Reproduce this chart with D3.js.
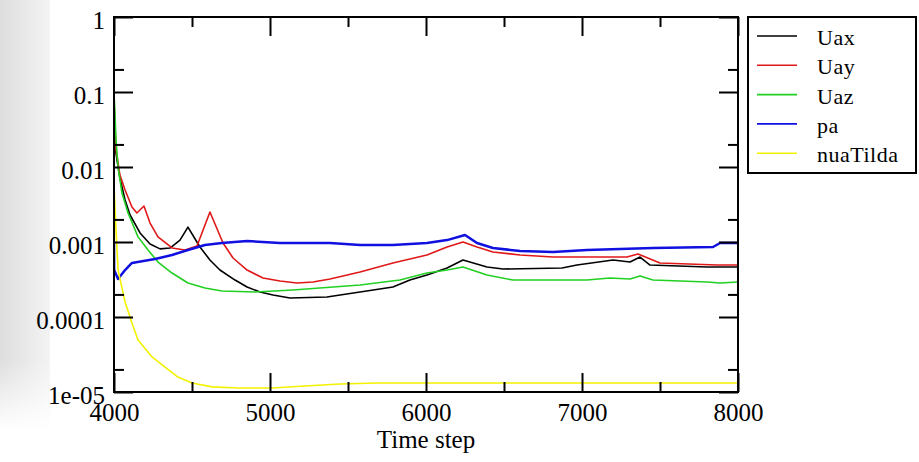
<!DOCTYPE html>
<html>

<head>
    <meta charset="utf-8">
    <style>
        body {
            margin: 0;
            background: white;
        }

        svg {
            display: block;
        }

        .axis line {
            stroke: black;
            stroke-width: 2;
        }
    </style>
</head>

<body>
    <svg width="919" height="462"></svg>

    <script src="https://d3js.org/d3.v7.min.js"></script>

    <script>
        // residuals, [time step, value]
        let uax = [
            [4000, 0.023], [4019, 0.0124], [4038, 0.00713], [4071, 0.00363], [4103, 0.00229],
            [4167, 0.00132], [4231, 0.00094], [4295, 0.00081], [4359, 0.00083], [4423, 0.00106],
            [4474, 0.00158], [4551, 0.000858], [4615, 0.000575], [4679, 0.000423], [4776, 0.000311],
            [4853, 0.000251], [4936, 0.000215], [5019, 0.000196], [5128, 0.000179], [5365, 0.000185],
            [5577, 0.000215], [5788, 0.000251], [5897, 0.000311], [6006, 0.000363], [6135, 0.00045],
            [6237, 0.000575], [6391, 0.000464], [6494, 0.000436], [6872, 0.00045], [6968, 0.000493],
            [7199, 0.000575], [7308, 0.000541], [7372, 0.00063], [7436, 0.000493], [7801, 0.000464],
            [8000, 0.000464]
        ]

        let uay = [
            [4000, 0.078], [4013, 0.0169], [4038, 0.00782], [4071, 0.00494], [4115, 0.00293],
            [4147, 0.00244], [4192, 0.00302], [4231, 0.00179], [4282, 0.00117], [4372, 0.000832],
            [4455, 0.000782], [4532, 0.000885], [4615, 0.00251], [4699, 0.00097], [4763, 0.000612],
            [4853, 0.000423], [4955, 0.000331], [5064, 0.000302], [5173, 0.000284], [5276, 0.000293],
            [5385, 0.000321], [5577, 0.000398], [5788, 0.000525], [6006, 0.000671], [6135, 0.000858],
            [6237, 0.001], [6327, 0.000858], [6429, 0.000736], [6603, 0.000671], [6814, 0.00063],
            [7288, 0.00063], [7359, 0.000692], [7500, 0.000525], [7865, 0.000493], [8000, 0.000493]
        ]

        let uaz = [
            [4000, 0.1], [4006, 0.0525], [4013, 0.0229], [4026, 0.01], [4051, 0.0045],
            [4090, 0.00244], [4154, 0.00117], [4218, 0.000782], [4282, 0.000541], [4372, 0.000386],
            [4474, 0.000284], [4583, 0.000244], [4692, 0.000222], [4904, 0.000215], [5147, 0.000229],
            [5577, 0.000267], [5833, 0.000311], [6006, 0.000386], [6135, 0.000423], [6237, 0.000464],
            [6391, 0.000363], [6558, 0.000311], [7032, 0.000311], [7179, 0.000331], [7308, 0.000321],
            [7372, 0.000352], [7455, 0.000311], [7801, 0.000293], [7885, 0.000284], [8000, 0.000293]
        ]

        let pa = [
            [4000, 0.001], [4001, 0.000423], [4026, 0.000321], [4071, 0.000423], [4115, 0.000525],
            [4263, 0.000593], [4372, 0.000671], [4474, 0.000782], [4583, 0.000912], [4692, 0.00097],
            [4853, 0.00103], [5064, 0.00097], [5385, 0.00097], [5577, 0.000912], [5788, 0.000912],
            [6006, 0.00097], [6135, 0.00106], [6250, 0.00124], [6327, 0.00097], [6429, 0.000832],
            [6603, 0.000759], [6814, 0.000736], [7032, 0.000782], [7455, 0.000832], [7840, 0.000858],
            [7885, 0.00097], [8000, 0.00097]
        ]

        let nuaTilda = [
            [4000, 0.00575], [4013, 0.00145], [4026, 0.000423], [4071, 0.000158], [4115, 0.0000832],
            [4154, 0.0000493], [4244, 0.0000293], [4327, 0.0000215], [4410, 0.0000158], [4500, 0.0000132],
            [4628, 0.0000117], [4795, 0.0000113], [5013, 0.0000113], [5224, 0.000012], [5449, 0.0000128],
            [5686, 0.0000132], [8000, 0.0000132]
        ]

        let seriesNames = ["Uax", "Uay", "Uaz", "pa", "nuaTilda"]
        let seriesData = [uax, uay, uaz, pa, nuaTilda]
        let seriesColors = ["#000000", "#e01818", "#22d022", "#1010e0", "#f2f200"]

        let xTicks = [4000, 5000, 6000, 7000, 8000]
        let xMinorTicks = [4500, 5500, 6500, 7500]
        let yTicks = [1, 0.1, 0.01, 0.001, 0.0001, 0.00001]
        let yTickLabels = ["1", "0.1", "0.01", "0.001", "0.0001", "1e-05"]
        let yMinorTicks = [0.2, 0.02, 0.002, 0.0002, 0.00002]

        let serif = '"Liberation Serif", "Times New Roman", Times, serif'
        let plotLeft = 114, plotRight = 738, plotTop = 17, plotBottom = 392

        let svg = d3.select("svg")

        // grey shadow strip on the left edge
        let defs = svg.append("defs")
        let grad = defs.append("linearGradient").attr("id", "strip")
        grad.append("stop").attr("offset", "0%").attr("stop-color", "#dedede")
        grad.append("stop").attr("offset", "100%").attr("stop-color", "#f3f3f3")
        let fade = defs.append("linearGradient").attr("id", "fade")
            .attr("x1", 0).attr("y1", 0).attr("x2", 0).attr("y2", 1)
        fade.append("stop").attr("offset", "0%").attr("stop-color", "white").attr("stop-opacity", 0)
        fade.append("stop").attr("offset", "100%").attr("stop-color", "white").attr("stop-opacity", 1)

        defs.append("clipPath").attr("id", "plot-clip")
            .append("rect")
            .attr("x", plotLeft).attr("y", plotTop)
            .attr("width", plotRight - plotLeft).attr("height", plotBottom - plotTop)

        svg.append("rect").attr("x", 0).attr("y", 0).attr("width", 50).attr("height", 462)
            .style("fill", "url(#strip)")
        svg.append("rect").attr("x", 0).attr("y", 360).attr("width", 50).attr("height", 70)
            .style("fill", "url(#fade)")
        svg.append("rect").attr("x", 0).attr("y", 430).attr("width", 50).attr("height", 32)
            .style("fill", "white")

        let x = d3.scaleLinear().domain([4000, 8000]).range([plotLeft, plotRight])
        let y = d3.scaleLog().domain([1e-5, 1]).range([plotBottom, plotTop])

        let line = d3.line()
            .x(d => x(d[0]))
            .y(d => y(d[1]))

        svg.append("g")
            .attr("clip-path", "url(#plot-clip)")
            .selectAll(".series")
            .data(seriesData)
            .join("path")
            .attr("class", "series")
            .attr("d", line)
            .style("fill", "none")
            .style("stroke", (d, i) => seriesColors[i])
            .style("stroke-width", (d, i) => seriesNames[i] == "pa" ? 2.5 : 1.6)
            .style("stroke-linejoin", "round")

        // major + minor ticks, all pointing inwards
        let bottomAxis = svg.append("g").attr("class", "axis")
            .attr("transform", `translate(0,${plotBottom})`)
            .call(d3.axisBottom(x).tickValues(xTicks).tickFormat(d3.format("d"))
                .tickSize(-19).tickSizeOuter(0).tickPadding(11))
        bottomAxis.append("g")
            .call(d3.axisBottom(x).tickValues(xMinorTicks).tickFormat("").tickSize(-10).tickSizeOuter(0))

        svg.append("g").attr("class", "axis")
            .attr("transform", `translate(0,${plotTop})`)
            .call(d3.axisTop(x).tickValues(xTicks).tickFormat("").tickSize(-19).tickSizeOuter(0))
            .append("g")
            .call(d3.axisTop(x).tickValues(xMinorTicks).tickFormat("").tickSize(-10).tickSizeOuter(0))

        let leftAxis = svg.append("g").attr("class", "axis")
            .attr("transform", `translate(${plotLeft},0)`)
            .call(d3.axisLeft(y).tickValues(yTicks).tickFormat((d, i) => yTickLabels[i])
                .tickSize(-19).tickSizeOuter(0).tickPadding(9))
        leftAxis.selectAll("text").attr("dy", "0.45em")
        leftAxis.append("g")
            .call(d3.axisLeft(y).tickValues(yMinorTicks).tickFormat("").tickSize(-10).tickSizeOuter(0))

        svg.append("g").attr("class", "axis")
            .attr("transform", `translate(${plotRight},0)`)
            .call(d3.axisRight(y).tickValues(yTicks).tickFormat("").tickSize(-19).tickSizeOuter(0))
            .append("g")
            .call(d3.axisRight(y).tickValues(yMinorTicks).tickFormat("").tickSize(-10).tickSizeOuter(0))

        svg.selectAll(".axis .domain").remove()
        svg.selectAll(".axis")
            .attr("font-family", serif)
            .attr("font-size", 25)
        svg.selectAll(".axis text")
            .style("font-family", serif)
            .style("font-size", "25px")
            .style("fill", "black")

        svg.append("rect")
            .attr("x", plotLeft).attr("y", plotTop)
            .attr("width", plotRight - plotLeft).attr("height", plotBottom - plotTop)
            .style("fill", "none")
            .style("stroke", "black")
            .style("stroke-width", 2)

        svg.append("text")
            .attr("x", (plotLeft + plotRight) / 2)
            .attr("y", 448)
            .attr("text-anchor", "middle")
            .style("font-family", serif)
            .style("font-size", "25px")
            .text("Time step")

        // legend
        let legend = svg.append("g")
        legend.append("rect")
            .attr("x", 748).attr("y", 17)
            .attr("width", 168).attr("height", 156)
            .style("fill", "white")
            .style("stroke", "black")
            .style("stroke-width", 2)

        let items = legend.selectAll(".item")
            .data(seriesNames)
            .join("g")
            .attr("class", "item")
            .attr("transform", (d, i) => `translate(0,${36 + i * 29.3})`)

        items.append("line")
            .attr("x1", 757).attr("x2", 797)
            .style("stroke", (d, i) => seriesColors[i])
            .style("stroke-width", 1.6)

        items.append("text")
            .attr("x", 817)
            .attr("y", 9)
            .style("font-family", serif)
            .style("font-size", "22px")
            .style("letter-spacing", "0.5px")
            .text(d => d)
    </script>
</body>

</html>
